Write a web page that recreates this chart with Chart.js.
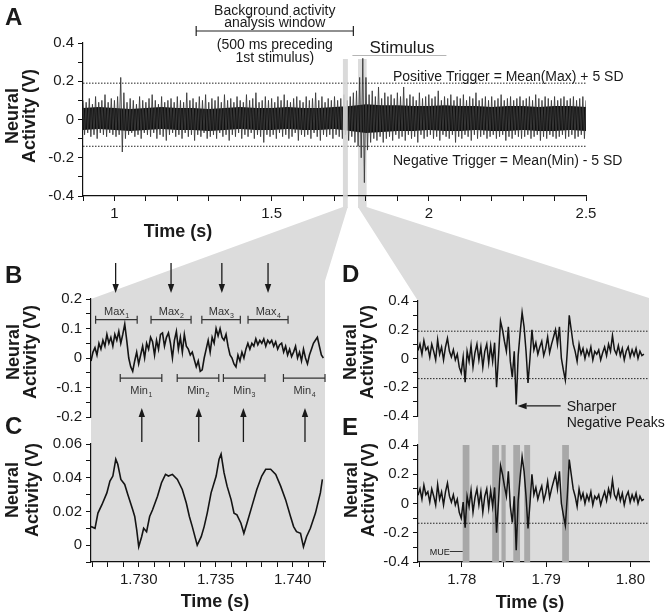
<!DOCTYPE html>
<html lang="en">
<head>
<meta charset="UTF-8">
<title>Neural activity triggers</title>
<script src="https://cdn.jsdelivr.net/npm/chart.js@4.4.0/dist/chart.umd.min.js"></script>
<style>
  body { margin: 0; background: #fff; }
  #wrap { position: relative; width: 669px; height: 615px; }
  canvas { position: absolute; }
</style>
</head>
<body>
<div id="wrap">
  <canvas id="bg" width="669" height="615" style="left:0;top:0"></canvas>
  <canvas id="chartA" width="669" height="245" style="left:0;top:0"></canvas>
  <canvas id="chartB" width="340" height="200" style="left:0;top:250px"></canvas>
  <canvas id="chartC" width="340" height="210" style="left:0;top:405px"></canvas>
  <canvas id="chartD" width="333" height="185" style="left:336px;top:250px"></canvas>
  <canvas id="chartE" width="333" height="210" style="left:336px;top:405px"></canvas>
</div>
<script>
// ---------- panel A: raw trace, max / min per 10 ms bin starting at 0.90 s ----------
const aStart = 0.9, aStep = 0.01;
const aMax = [
  0.10, 0.09, 0.11, 0.08, 0.12, 0.09, 0.10, 0.13, 0.09, 0.11,
  0.10, 0.12, 0.22, 0.14, 0.09, 0.11, 0.10, 0.08, 0.12, 0.10,
  0.09, 0.11, 0.13, 0.10, 0.08, 0.12, 0.09, 0.10, 0.11, 0.09,
  0.12, 0.10, 0.09, 0.14, 0.10, 0.11, 0.09, 0.12, 0.10, 0.13,
  0.09, 0.11, 0.10, 0.12, 0.09, 0.13, 0.10, 0.11, 0.09, 0.12,
  0.10, 0.09, 0.13, 0.10, 0.11, 0.14, 0.09, 0.10, 0.12, 0.10,
  0.11, 0.09, 0.12, 0.10, 0.13, 0.10, 0.09, 0.11, 0.12, 0.10,
  0.09, 0.12, 0.10, 0.11, 0.14, 0.10, 0.12, 0.09, 0.11, 0.10,
  0.12, 0.10, 0.11, 0.13, 0.10, 0.12, 0.14, 0.15, 0.22, 0.32,
  0.22, 0.13, 0.15, 0.12, 0.17, 0.11, 0.14, 0.12, 0.13, 0.11,
  0.14, 0.12, 0.17, 0.11, 0.13, 0.12, 0.10, 0.14, 0.11, 0.12,
  0.13, 0.11, 0.12, 0.15, 0.10, 0.12, 0.11, 0.13, 0.10, 0.12,
  0.11, 0.13, 0.10, 0.12, 0.11, 0.14, 0.10, 0.11, 0.12, 0.10,
  0.12, 0.10, 0.11, 0.13, 0.10, 0.11, 0.12, 0.10, 0.11, 0.12,
  0.10, 0.11, 0.12, 0.10, 0.13, 0.11, 0.10, 0.12, 0.11, 0.10,
  0.12, 0.10, 0.11, 0.12, 0.10, 0.11, 0.12, 0.10, 0.11, 0.12, 0.10
];
const aMin = [
  -0.08, -0.07, -0.09, -0.08, -0.10, -0.07, -0.08, -0.09, -0.07, -0.08,
  -0.09, -0.08, -0.17, -0.10, -0.08, -0.07, -0.09, -0.08, -0.10, -0.07,
  -0.08, -0.09, -0.07, -0.10, -0.08, -0.09, -0.11, -0.08, -0.07, -0.09,
  -0.08, -0.10, -0.07, -0.09, -0.08, -0.11, -0.08, -0.09, -0.07, -0.10,
  -0.09, -0.08, -0.10, -0.07, -0.09, -0.08, -0.11, -0.08, -0.09, -0.07,
  -0.10, -0.08, -0.09, -0.07, -0.10, -0.08, -0.09, -0.12, -0.08, -0.09,
  -0.08, -0.10, -0.07, -0.09, -0.08, -0.10, -0.09, -0.07, -0.11, -0.08,
  -0.09, -0.08, -0.10, -0.07, -0.09, -0.11, -0.08, -0.09, -0.08, -0.10,
  -0.08, -0.09, -0.10, -0.08, -0.11, -0.09, -0.12, -0.14, -0.20, -0.33,
  -0.16, -0.12, -0.10, -0.11, -0.09, -0.12, -0.10, -0.09, -0.11, -0.08,
  -0.10, -0.09, -0.11, -0.08, -0.10, -0.09, -0.12, -0.08, -0.10, -0.09,
  -0.08, -0.10, -0.09, -0.11, -0.08, -0.09, -0.10, -0.08, -0.12, -0.09,
  -0.10, -0.08, -0.09, -0.11, -0.08, -0.10, -0.09, -0.08, -0.10, -0.09,
  -0.08, -0.10, -0.09, -0.08, -0.11, -0.09, -0.10, -0.08, -0.09, -0.10,
  -0.09, -0.08, -0.10, -0.09, -0.08, -0.11, -0.09, -0.10, -0.08, -0.09,
  -0.10, -0.09, -0.08, -0.10, -0.09, -0.08, -0.10, -0.09, -0.08, -0.10, -0.09
];
// dense core of the trace, one value per 50 ms
const coreStep = 0.05;
const coreHi = [
  0.060, 0.065, 0.060, 0.055, 0.060, 0.065, 0.060, 0.060, 0.055, 0.060, 0.065,
  0.060, 0.060, 0.065, 0.060, 0.060, 0.065, 0.070, 0.080, 0.075, 0.075, 0.070,
  0.070, 0.075, 0.070, 0.070, 0.065, 0.070, 0.070, 0.065, 0.070, 0.070, 0.065
];
const coreLo = [
  -0.055, -0.050, -0.055, -0.060, -0.055, -0.050, -0.055, -0.055, -0.060, -0.055, -0.050,
  -0.055, -0.055, -0.050, -0.055, -0.055, -0.050, -0.060, -0.070, -0.065, -0.060, -0.060,
  -0.055, -0.060, -0.060, -0.055, -0.060, -0.060, -0.055, -0.060, -0.060, -0.055, -0.060
];
const aXTicks  = [0.9, 1.0, 1.1, 1.2, 1.3, 1.4, 1.5, 1.6, 1.7, 1.8, 1.9, 2.0, 2.1, 2.2, 2.3, 2.4, 2.5];
const aXLabels = ['', '1', '', '', '', '', '1.5', '', '', '', '', '2', '', '', '', '', '2.5'];
const aYTicks  = [-0.4, -0.3, -0.2, -0.1, 0, 0.1, 0.2, 0.3, 0.4];
const aYLabels = ['-0.4', '', '-0.2', '', '0', '', '0.2', '', '0.4'];
const aPosTrigger = 0.19, aNegTrigger = -0.14;
const bgWindow = [1.26, 1.76];
const stimulusSpan = [1.757, 2.056];
const zoomBC = [1.7269, 1.7421];
const zoomDE = [1.7748, 1.8022];

// ---------- panel B: trace sampled every 0.129 ms ----------
const bStart = 1.7269, bStep = 0.000129;
const bValues = [
  -0.01, 0.02, 0.035, 0.01, 0.05, 0.03, 0.06, 0.04, 0.08, 0.05,
  0.07, 0.04, 0.08, 0.06, 0.09, 0.05, 0.08, 0.115, 0.06, 0.0,
  -0.03, -0.045, -0.01, 0.02, -0.02, 0.01, 0.04, 0.0, 0.05, 0.03,
  0.07, 0.055, 0.01, 0.06, 0.03, 0.08, 0.085, 0.04, 0.07, 0.085,
  0.05, 0.0, 0.06, 0.09, 0.03, 0.07, 0.02, 0.08, 0.04, 0.03,
  0.01, 0.02, -0.005, -0.03, -0.01, -0.045, -0.04, 0.0, 0.03, 0.06,
  0.02, 0.07, 0.05, 0.1, 0.075, 0.1, 0.07, 0.06, 0.08, 0.04,
  0.01, 0.0, -0.02, -0.03, 0.01, -0.01, 0.02, 0.0, 0.03, 0.05,
  0.03, 0.05, 0.04, 0.065, 0.045, 0.06, 0.05, 0.065, 0.04, 0.06,
  0.05, 0.06, 0.04, 0.055, 0.03, 0.045, 0.05, 0.02, 0.04, 0.01,
  0.03, 0.005, 0.02, 0.04, 0.0, 0.02, -0.01, 0.03, 0.0, -0.02,
  0.01, 0.03, 0.05, 0.06, 0.07, 0.04, 0.01, 0.0
];
const bYTicks  = [-0.2, -0.15, -0.1, -0.05, 0, 0.05, 0.1, 0.15, 0.2];
const bYLabels = ['-0.2', '', '-0.1', '', '0', '', '0.1', '', '0.2'];
const maxFrom = [1.7272, 1.7308, 1.7341, 1.7371];
const maxTo   = [1.7299, 1.7334, 1.7366, 1.7397];
const minFrom = [1.7288, 1.7325, 1.7355, 1.7394];
const minTo   = [1.7315, 1.7352, 1.7382, 1.7421];
const maxLevel = 0.13, minLevel = -0.068;
const downArrows = [1.7285, 1.7321, 1.7354, 1.7384];
const upArrows   = [1.7302, 1.7339, 1.7368, 1.7408];

// ---------- panel C: averaged trace ----------
const cTime = [
  1.72690, 1.72716, 1.72735, 1.72761, 1.72793, 1.72813, 1.72832, 1.72851, 1.72864, 1.72884,
  1.72909, 1.72929, 1.72961, 1.72974, 1.72987, 1.73000, 1.73019, 1.73032, 1.73051, 1.73071,
  1.73090, 1.73122, 1.73148, 1.73174, 1.73193, 1.73219, 1.73251, 1.73283, 1.73309, 1.73329,
  1.73348, 1.73380, 1.73406, 1.73425, 1.73445, 1.73470, 1.73503, 1.73522, 1.73535, 1.73554,
  1.73574, 1.73600, 1.73619, 1.73638, 1.73664, 1.73683, 1.73703, 1.73735, 1.73767, 1.73799,
  1.73825, 1.73857, 1.73890, 1.73922, 1.73954, 1.73986, 1.74006, 1.74025, 1.74051, 1.74070,
  1.74090, 1.74115, 1.74148, 1.74180, 1.74193
];
const cValue = [
  0.011, 0.010, 0.019, 0.024, 0.031, 0.038, 0.041, 0.051, 0.048, 0.039,
  0.036, 0.030, 0.021, 0.017, 0.009, -0.001, 0.005, 0.010, 0.008, 0.017,
  0.021, 0.029, 0.037, 0.042, 0.041, 0.042, 0.039, 0.033, 0.025, 0.017,
  0.011, 0.000, 0.005, 0.011, 0.019, 0.031, 0.041, 0.051, 0.054, 0.043,
  0.035, 0.027, 0.019, 0.018, 0.013, 0.007, 0.013, 0.023, 0.033, 0.041,
  0.045, 0.045, 0.042, 0.035, 0.027, 0.017, 0.011, 0.008, 0.007, -0.001,
  0.005, 0.010, 0.019, 0.031, 0.039
];
const cYTicks  = [-0.01, 0, 0.01, 0.02, 0.03, 0.04, 0.05, 0.06];
const cYLabels = ['', '0', '', '0.02', '', '0.04', '', '0.06'];
const cXTicks  = [1.727, 1.728, 1.729, 1.730, 1.731, 1.732, 1.733, 1.734, 1.735, 1.736, 1.737, 1.738, 1.739, 1.740, 1.741, 1.742];
const cXLabels = ['', '', '', '1.730', '', '', '', '', '1.735', '', '', '', '', '1.740', '', ''];

// ---------- panels D / E: stimulus trace sampled every 0.233 ms ----------
const dStart = 1.7748, dStep = 0.000233;
const dValues = [
  0.056, 0.10, 0.03, 0.125, 0.06, 0.08, 0.01, 0.10, 0.05, -0.01,
  0.13, 0.03, 0.08, -0.01, 0.08, 0.14, 0.05, 0.01, 0.06, -0.01,
  0.03, -0.06, -0.10, 0.01, -0.165, 0.05, -0.02, 0.09, -0.06, 0.04,
  0.10, -0.01, 0.08, -0.06, 0.05, 0.10, -0.03, 0.09, -0.02, 0.11,
  -0.20, 0.02, 0.26, 0.20, 0.12, 0.05, 0.22, -0.02, -0.13, 0.05,
  -0.32, 0.02, 0.18, 0.32, 0.22, 0.05, -0.17, 0.0, 0.20, 0.06,
  0.11, 0.03, 0.08, 0.12, 0.02, 0.07, 0.15, 0.04, 0.10, 0.15,
  0.20, 0.10, 0.22, 0.0, -0.08, -0.15, 0.05, 0.30, 0.20, 0.10,
  0.05, -0.02, 0.10, 0.03, 0.07, 0.0, 0.06, 0.02, 0.08, -0.01,
  0.05, 0.03, 0.06, -0.01, 0.04, 0.08, 0.02, 0.10, 0.05, 0.16,
  0.06, 0.03, 0.09, 0.02, 0.07, -0.01, 0.05, 0.08, 0.01, 0.06,
  0.02, 0.07, 0.0, 0.05, 0.02, 0.03
];
const dYTicks  = [-0.4, -0.3, -0.2, -0.1, 0, 0.1, 0.2, 0.3, 0.4];
const dYLabels = ['-0.4', '', '-0.2', '', '0', '', '0.2', '', '0.4'];
const dPosTrigger = 0.19, dNegTrigger = -0.14, eNegTrigger = -0.135;
const sharpPeak = [1.7865, -0.33];
const mueStart = [1.7801, 1.7836, 1.7847, 1.7861, 1.7874, 1.7919];
const mueEnd   = [1.7809, 1.7844, 1.7852, 1.7869, 1.7881, 1.7927];
const eXTicks  = [1.775, 1.78, 1.785, 1.79, 1.795, 1.80];
const eXLabels = ['', '1.78', '', '1.79', '', '1.80'];

// ---------- helpers ----------
const FONT = "'Liberation Sans', Arial, Helvetica, sans-serif";
const INK = '#1a1a1a';
Chart.defaults.font.family = FONT;
Chart.defaults.color = INK;

function linScale(o) {
  return {
    type: 'linear', min: o.min, max: o.max, bounds: 'data', display: o.display !== false,
    afterBuildTicks: s => { s.ticks = o.ticks.map(v => ({ value: v })); },
    afterFit: s => { if (s.isHorizontal()) s.height = o.size || 0; else s.width = o.size || 0; },
    ticks: { autoSkip: false, maxRotation: 0, minRotation: 0, padding: 4, color: INK,
             font: { size: 15 }, callback: (v, i) => o.labels[i] },
    grid: { drawOnChartArea: false, drawTicks: true, tickLength: 5, color: '#111', lineWidth: 1 },
    border: { display: true, color: '#111', width: 1.2 }
  };
}
function baseOptions(padding, x, y) {
  return {
    responsive: false, animation: false, devicePixelRatio: 1, events: [],
    layout: { padding },
    plugins: { legend: { display: false }, tooltip: { enabled: false } },
    scales: { x, y }
  };
}
function series(xs, ys) { return xs.map((x, i) => ({ x, y: ys[i] })); }
function sampled(start, step, ys) { return ys.map((y, i) => ({ x: start + i * step, y })); }
function trace(data, w, color) { return { data, borderColor: color || '#141414', borderWidth: w, pointRadius: 0, tension: 0 }; }
function hline(y, x0, x1) {
  return { data: [{ x: x0, y }, { x: x1, y }], borderColor: '#222', borderWidth: 1, borderDash: [1.5, 1.5], pointRadius: 0 };
}
function letter(ctx, s, x, y) {
  ctx.save(); ctx.fillStyle = INK; ctx.font = 'bold 24px ' + FONT; ctx.textAlign = 'left';
  ctx.fillText(s, x, y); ctx.restore();
}
function yTitle(ctx, x1, x2, yc) {
  ctx.save(); ctx.fillStyle = INK; ctx.font = 'bold 18px ' + FONT; ctx.textAlign = 'center';
  [['Neural', x1], ['Activity (V)', x2]].forEach(([t, x]) => {
    ctx.save(); ctx.translate(x, yc); ctx.rotate(-Math.PI / 2); ctx.fillText(t, 0, 0); ctx.restore();
  });
  ctx.restore();
}
function xTitle(ctx, cx, y) {
  ctx.save(); ctx.fillStyle = INK; ctx.font = 'bold 18px ' + FONT; ctx.textAlign = 'center';
  ctx.fillText('Time (s)', cx, y); ctx.restore();
}
function text(ctx, s, x, y, size, align) {
  ctx.save(); ctx.fillStyle = INK; ctx.font = size + 'px ' + FONT; ctx.textAlign = align || 'left';
  ctx.fillText(s, x, y); ctx.restore();
}
function arrow(ctx, x0, y0, x1, y1) {
  const a = Math.atan2(y1 - y0, x1 - x0), h = 9, w = 3.2;
  const bx = x1 - Math.cos(a) * h, by = y1 - Math.sin(a) * h;
  ctx.save(); ctx.strokeStyle = INK; ctx.fillStyle = INK; ctx.lineWidth = 1.3;
  ctx.beginPath(); ctx.moveTo(x0, y0); ctx.lineTo(bx, by); ctx.stroke();
  ctx.beginPath(); ctx.moveTo(x1, y1);
  ctx.lineTo(bx + Math.sin(a) * w, by - Math.cos(a) * w);
  ctx.lineTo(bx - Math.sin(a) * w, by + Math.cos(a) * w);
  ctx.closePath(); ctx.fill(); ctx.restore();
}
function bracket(ctx, xa, xb, y, cap) {
  ctx.save(); ctx.strokeStyle = '#333'; ctx.lineWidth = 1.2; ctx.beginPath();
  ctx.moveTo(xa, y - cap); ctx.lineTo(xa, y + cap);
  ctx.moveTo(xa, y); ctx.lineTo(xb, y);
  ctx.moveTo(xb, y - cap); ctx.lineTo(xb, y + cap);
  ctx.stroke(); ctx.restore();
}
function subLabel(ctx, base, sub, cx, y) {
  ctx.save(); ctx.fillStyle = '#333';
  ctx.font = '11px ' + FONT; const w1 = ctx.measureText(base).width;
  ctx.font = '7px ' + FONT; const w2 = ctx.measureText(sub).width;
  const x0 = cx - (w1 + w2) / 2;
  ctx.font = '11px ' + FONT; ctx.fillText(base, x0, y);
  ctx.font = '7px ' + FONT; ctx.fillText(sub, x0 + w1 + 0.5, y + 3);
  ctx.restore();
}

// ---------- chart A ----------
const aTrace = [];
aMax.forEach((v, i) => {
  const t = aStart + i * aStep;
  aTrace.push({ x: t, y: v }, { x: t + aStep / 2, y: aMin[i] });
});
const bandTop = 59, fanTop = 207;

const decorA = {
  id: 'decorA',
  afterDraw(chart) {
    const { ctx, chartArea: ca, scales: { x } } = chart;
    // left zoom band lies over the trace
    const x0 = x.getPixelForValue(zoomBC[0]), x1 = x.getPixelForValue(zoomBC[1]);
    ctx.save(); ctx.fillStyle = 'rgba(218,218,218,0.88)';
    ctx.fillRect(x0, bandTop, x1 - x0, ca.bottom + 2 - bandTop); ctx.restore();

    letter(ctx, 'A', 5, 25);
    yTitle(ctx, 18, 35, 116);
    xTitle(ctx, 178, 237);

    // background window bracket
    const wa = x.getPixelForValue(bgWindow[0]), wb = x.getPixelForValue(bgWindow[1]);
    const cx = (wa + wb) / 2;
    text(ctx, 'Background activity', cx, 15, 14, 'center');
    text(ctx, 'analysis window', cx, 27, 14, 'center');
    ctx.save(); ctx.strokeStyle = '#222'; ctx.lineWidth = 1.2; ctx.beginPath();
    ctx.moveTo(wa, 26); ctx.lineTo(wa, 36); ctx.moveTo(wa, 31); ctx.lineTo(wb, 31);
    ctx.moveTo(wb, 26); ctx.lineTo(wb, 36); ctx.stroke(); ctx.restore();
    text(ctx, '(500 ms preceding', cx, 49, 14, 'center');
    text(ctx, '1st stimulus)', cx, 62, 14, 'center');

    // stimulus label
    const sa = x.getPixelForValue(stimulusSpan[0]), sb = x.getPixelForValue(stimulusSpan[1]);
    text(ctx, 'Stimulus', sa + 17, 53, 17, 'left');
    ctx.save(); ctx.strokeStyle = '#b5b5b5'; ctx.lineWidth = 1; ctx.beginPath();
    ctx.moveTo(sa, 55.5); ctx.lineTo(sb, 55.5); ctx.stroke(); ctx.restore();

    text(ctx, 'Positive Trigger = Mean(Max) + 5 SD', 393, 81, 14, 'left');
    text(ctx, 'Negative Trigger = Mean(Min) - 5 SD', 393, 165, 14, 'left');
  }
};
const chartA = new Chart(document.getElementById('chartA'), {
  type: 'line',
  data: { datasets: [
    hline(aPosTrigger, 0.9, 2.5), hline(aNegTrigger, 0.9, 2.5),
    trace(aTrace, 0.9, '#3a3a3a'),
    { data: sampled(aStart, coreStep, coreHi), borderWidth: 0, pointRadius: 0, fill: '+1', backgroundColor: '#101010' },
    { data: sampled(aStart, coreStep, coreLo), borderWidth: 0, pointRadius: 0, fill: false }
  ] },
  options: baseOptions({ left: 43, right: 83, top: 43, bottom: 19 },
    linScale({ min: 0.9, max: 2.5, ticks: aXTicks, labels: aXLabels, size: 30 }),
    linScale({ min: -0.4, max: 0.4, ticks: aYTicks, labels: aYLabels, size: 40 })),
  plugins: [decorA]
});

// ---------- chart B ----------
const decorB = {
  id: 'decorB',
  afterDraw(chart) {
    const { ctx, scales: { x, y } } = chart;
    letter(ctx, 'B', 5, 33);
    yTitle(ctx, 19, 36, 102);
    downArrows.forEach(t => arrow(ctx, x.getPixelForValue(t), 13, x.getPixelForValue(t), 43));
    const yMax = y.getPixelForValue(maxLevel), yMin = y.getPixelForValue(minLevel);
    maxFrom.forEach((t, i) => {
      const xa = x.getPixelForValue(t), xb = x.getPixelForValue(maxTo[i]);
      bracket(ctx, xa, xb, yMax, 4);
      subLabel(ctx, 'Max', String(i + 1), (xa + xb) / 2, yMax - 5);
    });
    minFrom.forEach((t, i) => {
      const xa = x.getPixelForValue(t), xb = x.getPixelForValue(minTo[i]);
      bracket(ctx, xa, xb, yMin, 4);
      subLabel(ctx, 'Min', String(i + 1), (xa + xb) / 2, yMin + 16);
    });
    upArrows.forEach(t => arrow(ctx, x.getPixelForValue(t), 192, x.getPixelForValue(t), 158));
  }
};
const chartB = new Chart(document.getElementById('chartB'), {
  type: 'line',
  data: { datasets: [trace(sampled(bStart, bStep, bValues), 1.6)] },
  options: baseOptions({ left: 51, right: 15, top: 49, bottom: 33 },
    linScale({ min: zoomBC[0], max: zoomBC[1], ticks: [], labels: [], display: false }),
    linScale({ min: -0.2, max: 0.2, ticks: bYTicks, labels: bYLabels, size: 40 })),
  plugins: [decorB]
});

// ---------- chart C ----------
const decorC = {
  id: 'decorC',
  afterDraw(chart) {
    const { ctx } = chart;
    letter(ctx, 'C', 5, 29);
    yTitle(ctx, 18, 38, 85);
    xTitle(ctx, 215, 202);
  }
};
const chartC = new Chart(document.getElementById('chartC'), {
  type: 'line',
  data: { datasets: [trace(series(cTime, cValue), 1.6)] },
  options: baseOptions({ left: 51, right: 15, top: 39, bottom: 23 },
    linScale({ min: zoomBC[0], max: zoomBC[1], ticks: cXTicks, labels: cXLabels, size: 30 }),
    linScale({ min: -0.01, max: 0.06, ticks: cYTicks, labels: cYLabels, size: 40 })),
  plugins: [decorC]
});

// ---------- chart D ----------
const decorD = {
  id: 'decorD',
  afterDraw(chart) {
    const { ctx, scales: { x, y } } = chart;
    letter(ctx, 'D', 6, 32);
    yTitle(ctx, 20, 37, 102);
    const px = x.getPixelForValue(sharpPeak[0]), py = y.getPixelForValue(sharpPeak[1]);
    arrow(ctx, px + 44, py, px + 1, py);
    text(ctx, 'Sharper', px + 50, py + 5, 14, 'left');
    text(ctx, 'Negative Peaks', px + 50, py + 21, 14, 'left');
  }
};
const chartD = new Chart(document.getElementById('chartD'), {
  type: 'line',
  data: { datasets: [
    hline(dPosTrigger, zoomDE[0], zoomDE[1]), hline(dNegTrigger, zoomDE[0], zoomDE[1]),
    trace(sampled(dStart, dStep, dValues), 1.5)
  ] },
  options: baseOptions({ left: 42, right: 20, top: 51, bottom: 19 },
    linScale({ min: zoomDE[0], max: zoomDE[1], ticks: [], labels: [], display: false }),
    linScale({ min: -0.4, max: 0.4, ticks: dYTicks, labels: dYLabels, size: 40 })),
  plugins: [decorD]
});

// ---------- chart E ----------
const decorE = {
  id: 'decorE',
  beforeDatasetsDraw(chart) {
    const { ctx, chartArea: ca, scales: { x } } = chart;
    ctx.save(); ctx.fillStyle = '#a8a8a8';
    mueStart.forEach((t, i) => {
      const xa = x.getPixelForValue(t), xb = x.getPixelForValue(mueEnd[i]);
      ctx.fillRect(xa, ca.top, xb - xa, ca.bottom - ca.top);
    });
    ctx.restore();
  },
  afterDraw(chart) {
    const { ctx, scales: { x } } = chart;
    letter(ctx, 'E', 6, 30);
    yTitle(ctx, 21, 38, 85);
    xTitle(ctx, 194, 203);
    const xa = x.getPixelForValue(mueStart[0]);
    text(ctx, 'MUE', xa - 33, 150, 9, 'left');
    ctx.save(); ctx.strokeStyle = '#333'; ctx.lineWidth = 1; ctx.beginPath();
    ctx.moveTo(xa - 13, 146.5); ctx.lineTo(xa, 146.5); ctx.stroke(); ctx.restore();
  }
};
const chartE = new Chart(document.getElementById('chartE'), {
  type: 'line',
  data: { datasets: [
    hline(eNegTrigger, zoomDE[0], zoomDE[1]),
    trace(sampled(dStart, dStep, dValues), 1.5)
  ] },
  options: baseOptions({ left: 42, right: 20, top: 40, bottom: 23 },
    linScale({ min: zoomDE[0], max: zoomDE[1], ticks: eXTicks, labels: eXLabels, size: 30 }),
    linScale({ min: -0.4, max: 0.4, ticks: dYTicks, labels: dYLabels, size: 40 })),
  plugins: [decorE]
});

// ---------- zoom fans behind everything ----------
function drawBg() {
  const ctx = document.getElementById('bg').getContext('2d');
  const xA = v => chartA.scales.x.getPixelForValue(v);
  const area = (ch, dx, dy) => ({ l: ch.chartArea.left + dx, r: ch.chartArea.right + dx,
                                   t: ch.chartArea.top + dy, b: ch.chartArea.bottom + dy });
  const B = area(chartB, 0, 250), C = area(chartC, 0, 405);
  const D = area(chartD, 336, 250), E = area(chartE, 336, 405);
  ctx.fillStyle = '#dcdcdc';
  [zoomBC, zoomDE].forEach(z => ctx.fillRect(xA(z[0]), bandTop, xA(z[1]) - xA(z[0]), fanTop - bandTop + 1));
  ctx.beginPath();
  ctx.moveTo(xA(zoomBC[0]), fanTop); ctx.lineTo(B.l, B.t); ctx.lineTo(C.l, C.b);
  ctx.lineTo(C.r, C.b); ctx.lineTo(B.r, B.t - 18); ctx.lineTo(xA(zoomBC[1]), fanTop);
  ctx.closePath(); ctx.fill();
  ctx.beginPath();
  ctx.moveTo(xA(zoomDE[0]), fanTop); ctx.lineTo(D.l, D.t); ctx.lineTo(E.l, E.b);
  ctx.lineTo(E.r, E.b); ctx.lineTo(D.r, D.t - 3); ctx.lineTo(xA(zoomDE[1]), fanTop);
  ctx.closePath(); ctx.fill();
}
drawBg();
</script>
</body>
</html>
